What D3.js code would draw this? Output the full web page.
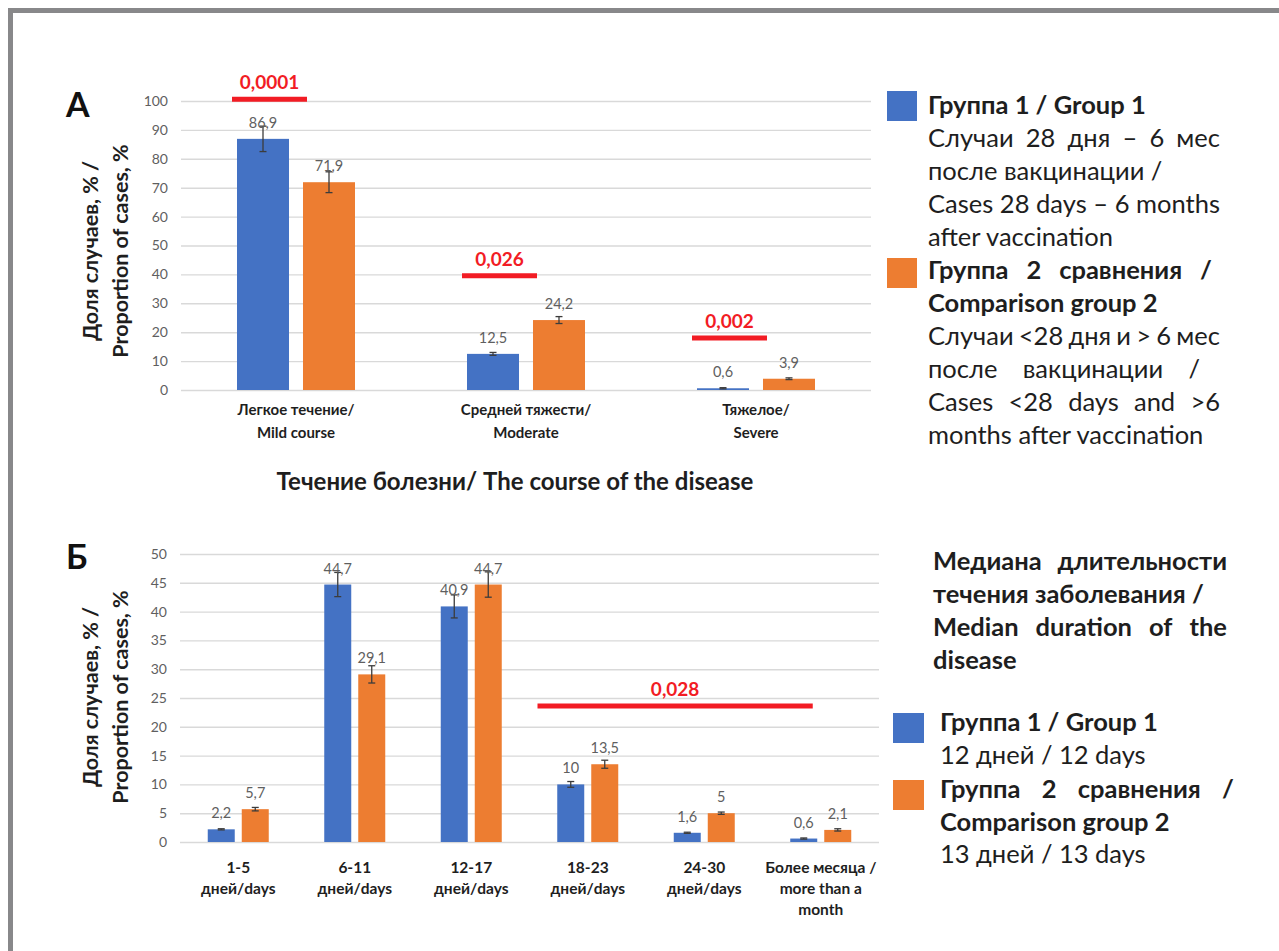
<!DOCTYPE html>
<html lang="ru">
<head>
  <meta charset="UTF-8">
  <title>Течение болезни</title>
  <style>
    body { margin: 0; background: #fff; }
    svg { display: block; font-family: Lato, "Open Sans", sans-serif; }
  </style>
</head>
<body>
  <script src="https://d3js.org/d3.v7.min.js"></script>
  <script>
    // panel A data
    const catsA = [["Легкое течение/", "Mild course"], ["Средней тяжести/", "Moderate"], ["Тяжелое/", "Severe"]];
    const group1A = [86.9, 12.5, 0.6];
    const group2A = [71.9, 24.2, 3.9];
    const err1A = [4.4, 0.5, 0.2];
    const err2A = [3.6, 1.2, 0.3];
    const pTextA = ["0,0001", "0,026", "0,002"];
    const pLevelA = [100.6, 39.5, 18];
    const ticksA = d3.range(0, 101, 10);

    // panel B data
    const catsB = [["1-5", "дней/days"], ["6-11", "дней/days"], ["12-17", "дней/days"],
                   ["18-23", "дней/days"], ["24-30", "дней/days"], ["Более месяца /", "more than a", "month"]];
    const group1B = [2.2, 44.7, 40.9, 10, 1.6, 0.6];
    const group2B = [5.7, 29.1, 44.7, 13.5, 5, 2.1];
    const err1B = [0.1, 2.1, 2.0, 0.5, 0.1, 0.1];
    const err2B = [0.3, 1.5, 2.2, 0.7, 0.2, 0.2];
    const pTextB = "0,028";
    const pLevelB = 23.6;
    const pSpanB = [3, 5];   // from 18-23 to "more than a month"
    const ticksB = d3.range(0, 51, 5);

    const blue = '#4472c4', orange = '#ed7d31', red = '#f21c24';
    const fmt = v => String(v).replace('.', ',');

    const svg = d3.select('body').append('svg')
      .attr('width', 1279).attr('height', 951);

    // frame
    svg.append('rect').attr('x', 8).attr('y', 8).attr('width', 1271).attr('height', 5).attr('fill', '#88888a');
    svg.append('rect').attr('x', 8).attr('y', 8).attr('width', 5).attr('height', 943).attr('fill', '#88888a');

    // one line of text; if right is given the words are spread out to reach it
    const textLine = (g, x, y, str, size, weight, right) => {
      if (!right) {
        g.append('text').attr('x', x).attr('y', y).attr('font-size', size)
          .attr('font-weight', weight).attr('fill', '#1e1e1e').text(str);
        return;
      }
      const words = str.split(/\s+/);
      const nodes = words.map(w => g.append('text').attr('y', y).attr('font-size', size)
        .attr('font-weight', weight).attr('fill', '#1e1e1e').text(w));
      const widths = nodes.map(n => n.node().getComputedTextLength());
      const gap = (right - x - d3.sum(widths)) / (words.length - 1);
      let cx = x;
      nodes.forEach((n, i) => { n.attr('x', cx); cx += widths[i] + gap; });
    };

    const drawPanel = (cfg) => {
      const g = svg.append('g');
      const x = d3.scaleBand().domain(d3.range(cfg.cats.length)).range(cfg.xr);
      const y = d3.scaleLinear().domain([0, cfg.max]).range(cfg.yr);
      const half = cfg.pair / 2;
      const sub = d3.scaleBand().domain([0, 1])
        .range([x.bandwidth() / 2 - half, x.bandwidth() / 2 + half])
        .paddingInner(cfg.inner);

      const axis = g.append('g').attr('transform', `translate(${cfg.xr[0]},0)`)
        .call(d3.axisLeft(y).tickValues(cfg.ticks).tickSize(-(cfg.xr[1] - cfg.xr[0])).tickPadding(13));
      axis.select('.domain').remove();
      axis.selectAll('line').attr('stroke', '#d9d9d9').attr('stroke-width', 1.4);
      axis.selectAll('text').attr('fill', '#5f5f5f').attr('font-size', 14).attr('font-family', 'Lato');

      const series = [cfg.g1, cfg.g2];
      const errs = [cfg.e1, cfg.e2];
      const colors = [blue, orange];
      series.forEach((vals, s) => {
        const grp = g.append('g');
        const bx = i => x(i) + sub(s);
        grp.selectAll('rect').data(vals).enter().append('rect')
          .attr('x', (d, i) => bx(i)).attr('width', sub.bandwidth())
          .attr('y', d => y(d)).attr('height', d => y(0) - y(d))
          .attr('fill', colors[s]);
        const eb = grp.selectAll('g.err').data(vals).enter().append('g').attr('class', 'err')
          .attr('transform', (d, i) => `translate(${bx(i) + sub.bandwidth() / 2},0)`)
          .attr('stroke', '#3c3c3c').attr('stroke-width', 1.3);
        eb.append('line').attr('y1', (d, i) => y(d - errs[s][i])).attr('y2', (d, i) => y(d + errs[s][i]));
        eb.append('line').attr('x1', -3.5).attr('x2', 3.5).attr('y1', (d, i) => y(d - errs[s][i])).attr('y2', (d, i) => y(d - errs[s][i]));
        eb.append('line').attr('x1', -3.5).attr('x2', 3.5).attr('y1', (d, i) => y(d + errs[s][i])).attr('y2', (d, i) => y(d + errs[s][i]));
        grp.selectAll('text').data(vals).enter().append('text')
          .attr('x', (d, i) => bx(i) + sub.bandwidth() / 2).attr('y', d => y(d) - 11)
          .attr('text-anchor', 'middle').attr('font-size', 14.5).attr('fill', '#5f5f5f')
          .text(fmt);
      });

      // category labels
      const cl = g.selectAll('text.cat').data(cfg.cats).enter().append('text').attr('class', 'cat')
        .attr('text-anchor', 'middle').attr('font-size', cfg.catSize).attr('font-weight', 'bold').attr('fill', '#1e1e1e')
        .attr('transform', (d, i) => `translate(${x(i) + x.bandwidth() / 2},${cfg.catY})`);
      cl.selectAll('tspan').data(d => d).enter().append('tspan')
        .attr('x', 0).attr('dy', (d, i) => i === 0 ? 0 : cfg.catLh).text(d => d);

      // y title
      const yt = g.append('text').attr('transform', `translate(${cfg.ytX},${cfg.ytY}) rotate(-90)`)
        .attr('text-anchor', 'middle').attr('font-size', 21.5).attr('font-weight', 'bold').attr('fill', '#1e1e1e');
      yt.append('tspan').attr('x', 0).attr('dy', 0).text('Доля случаев, % /');
      yt.append('tspan').attr('x', 0).attr('dy', 30).text('Proportion of cases, %');

      // panel letter
      g.append('text').attr('x', 66).attr('y', cfg.letterY).attr('font-size', 34).attr('font-weight', 'bold')
        .attr('fill', '#111').text(cfg.letter);

      return { g, x, y, sub };
    };

    // ---- panel A
    const A = drawPanel({
      cats: catsA, g1: group1A, g2: group2A, e1: err1A, e2: err2A, max: 100, ticks: ticksA,
      xr: [181, 871], yr: [390, 101], pair: 118, inner: 0.212,
      catY: 415, catLh: 23, catSize: 15, ytX: 98, ytY: 251, letter: 'А', letterY: 117
    });
    pTextA.forEach((t, i) => {
      const x0 = A.x(i) + A.sub(0) - 5;
      const x1 = A.x(i) + A.sub(1) + 4;
      const ly = A.y(pLevelA[i]);
      A.g.append('line').attr('x1', x0).attr('x2', x1).attr('y1', ly).attr('y2', ly)
        .attr('stroke', red).attr('stroke-width', 5);
      A.g.append('text').attr('x', (x0 + x1) / 2).attr('y', ly - 10).attr('text-anchor', 'middle')
        .attr('font-size', 19).attr('font-weight', 'bold').attr('fill', red).text(t);
    });
    svg.append('text').attr('x', 515).attr('y', 490).attr('text-anchor', 'middle')
      .attr('font-size', 24).attr('font-weight', 'bold').attr('fill', '#1e1e1e')
      .text('Течение болезни/ The course of the disease');

    // ---- panel B
    const B = drawPanel({
      cats: catsB, g1: group1B, g2: group2B, e1: err1B, e2: err2B, max: 50, ticks: ticksB,
      xr: [180, 879], yr: [842, 554], pair: 61, inner: 0.206,
      catY: 873, catLh: 21, catSize: 15.5, ytX: 98, ytY: 697, letter: 'Б', letterY: 569
    });
    {
      const x0 = B.x(pSpanB[0]) + 8;
      const x1 = B.x(pSpanB[1]) + B.x.bandwidth() / 2 - 8;
      const ly = B.y(pLevelB);
      B.g.append('line').attr('x1', x0).attr('x2', x1).attr('y1', ly).attr('y2', ly)
        .attr('stroke', red).attr('stroke-width', 5);
      B.g.append('text').attr('x', (x0 + x1) / 2).attr('y', ly - 10).attr('text-anchor', 'middle')
        .attr('font-size', 19).attr('font-weight', 'bold').attr('fill', red).text(pTextB);
    }

    // ---- legends
    const fs = 25.5;
    const lg = svg.append('g');
    lg.append('rect').attr('x', 887).attr('y', 91).attr('width', 30).attr('height', 30).attr('fill', blue);
    lg.append('rect').attr('x', 887).attr('y', 258).attr('width', 30).attr('height', 30).attr('fill', orange);
    const legA = [
      ['Группа 1  / Group 1', 'bold', null],
      ['Случаи 28 дня – 6 мес', 'normal', 1220],
      ['после вакцинации /', 'normal', null],
      ['Cases 28 days – 6 months', 'normal', 1220],
      ['after vaccination', 'normal', null],
      ['Группа 2 сравнения /', 'bold', 1212],
      ['Comparison group 2', 'bold', null],
      ['Случаи <28 дня и > 6 мес', 'normal', 1220],
      ['после вакцинации /', 'normal', 1200],
      ['Cases <28 days and >6', 'normal', 1220],
      ['months after vaccination', 'normal', null]
    ];
    legA.forEach((l, i) => textLine(lg, 928, 114 + i * 33, l[0], fs, l[1], l[2]));

    lg.append('rect').attr('x', 893).attr('y', 713).attr('width', 31).attr('height', 30).attr('fill', blue);
    lg.append('rect').attr('x', 893).attr('y', 780).attr('width', 31).attr('height', 30).attr('fill', orange);
    const legB = [
      ['Медиана длительности', 'bold', 1227, 570],
      ['течения заболевания /', 'bold', null, 603],
      ['Median duration of the', 'bold', 1227, 636],
      ['disease', 'bold', null, 669],
      ['Группа 1 / Group 1', 'bold', null, 731],
      ['12 дней / 12 days', 'normal', null, 764],
      ['Группа 2 сравнения /', 'bold', 1234, 798],
      ['Comparison group 2', 'bold', null, 831],
      ['13 дней / 13 days', 'normal', null, 863]
    ];
    legB.forEach(l => textLine(lg, l[3] > 700 ? 940 : 933, l[3], l[0], fs, l[1], l[2]));
  </script>
</body>
</html>
